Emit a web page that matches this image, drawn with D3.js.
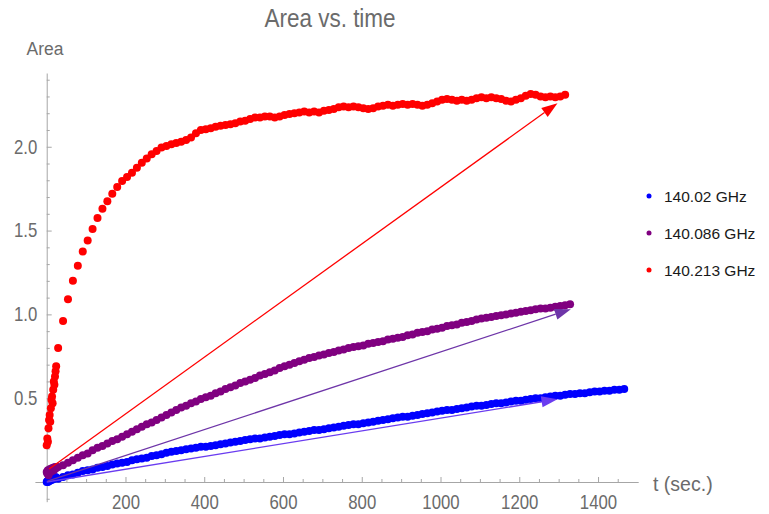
<!DOCTYPE html>
<html><head><meta charset="utf-8">
<script src="https://cdn.jsdelivr.net/npm/d3@7"></script>
<style>body{margin:0;background:#fff}</style>
</head><body><svg id="c" width="769" height="514"></svg>
<script>
// ---------- DATA ----------
const seriesNames = ["140.02 GHz", "140.086 GHz", "140.213 GHz"];
const tEarly = [0,1.5,3,4.5,6,7.5,9,10.5,12,13.5,15,16.5,18,19.5,21,22.5,24];
const tMain = [29,41.5,54,66.5,79,91.5,104,116.5,129,141.5,154,166.5,179,191.5,204,216.5,229,241.5,254,266.5,
  279,291.5,304,316.5,329,341.5,354,366.5,379,391.5,404,416.5,429,441.5,454,466.5,479,491.5,504,516.5,
  529,541.5,554,566.5,579,591.5,604,616.5,629,641.5,654,666.5,679,691.5,704,716.5,729,741.5,754,766.5,
  779,791.5,804,816.5,829,841.5,854,866.5,879,891.5,904,916.5,929,941.5,954,966.5,979,991.5,1004,1016.5,
  1029,1041.5,1054,1066.5,1079,1091.5,1104,1116.5,1129,1141.5,1154,1166.5,1179,1191.5,1204,1216.5,1229,1241.5,1254,1266.5,
  1279,1291.5,1304,1316.5,1329,1341.5,1354,1366.5,1379,1391.5,1404,1416.5,1429,1441.5,1454,1466.5];

const blueEarly = [0.0,0.005,0.0,0.01,0.005,0.01,0.015,0.01,0.015,0.02,0.015,0.02,0.025,0.02,0.025,0.03,0.025];
const blueMain = [0.02,0.03,0.04,0.045,0.055,0.065,0.07,0.075,0.085,0.09,
  0.095,0.105,0.11,0.115,0.12,0.13,0.135,0.14,0.145,0.155,
  0.16,0.165,0.175,0.18,0.185,0.19,0.195,0.20,0.205,0.21,
  0.21,0.215,0.22,0.225,0.23,0.235,0.24,0.245,0.25,0.255,
  0.26,0.26,0.265,0.27,0.275,0.28,0.285,0.285,0.29,0.295,
  0.30,0.305,0.31,0.31,0.315,0.32,0.325,0.33,0.335,0.34,
  0.345,0.345,0.35,0.355,0.36,0.365,0.37,0.375,0.38,0.385,
  0.39,0.39,0.395,0.40,0.405,0.41,0.415,0.42,0.425,0.43,
  0.43,0.435,0.44,0.445,0.45,0.455,0.455,0.46,0.465,0.47,
  0.47,0.475,0.48,0.485,0.485,0.49,0.495,0.50,0.50,0.505,
  0.51,0.515,0.515,0.52,0.525,0.525,0.53,0.53,0.535,0.54,
  0.54,0.545,0.545,0.55,0.55,0.555];

const purpleEarly = [0.06,0.05,0.07,0.04,0.065,0.075,0.06,0.07,0.08,0.065,0.075,0.085,0.07,0.08,0.09,0.08,0.085];
const purpleMain = [0.09,0.10,0.115,0.13,0.145,0.16,0.17,0.19,0.205,0.215,
  0.23,0.245,0.255,0.27,0.285,0.30,0.315,0.33,0.345,0.355,
  0.37,0.385,0.40,0.415,0.43,0.445,0.455,0.47,0.48,0.495,
  0.505,0.515,0.53,0.54,0.555,0.565,0.575,0.59,0.60,0.61,
  0.62,0.635,0.645,0.655,0.665,0.68,0.69,0.70,0.71,0.72,
  0.73,0.74,0.745,0.755,0.76,0.77,0.775,0.785,0.79,0.80,
  0.805,0.81,0.815,0.825,0.83,0.835,0.84,0.85,0.855,0.86,
  0.865,0.875,0.88,0.89,0.895,0.90,0.91,0.915,0.92,0.93,
  0.935,0.94,0.95,0.955,0.96,0.97,0.975,0.98,0.985,0.99,
  0.995,1.00,1.005,1.01,1.015,1.02,1.025,1.03,1.035,1.035,
  1.04,1.045,1.05,1.055,1.06];

const redEarly = [0.22,0.26,0.24,0.32,0.37,0.40,0.36,0.44,0.49,0.51,0.47,0.55,0.60,0.58,0.63,0.66,0.69];
const redMain = [0.80,0.96,1.09,1.20,1.29,1.375,1.44,1.51,1.575,1.63,
  1.675,1.72,1.76,1.795,1.82,1.845,1.875,1.905,1.93,1.955,
  1.975,1.995,2.005,2.015,2.022,2.03,2.04,2.055,2.08,2.10,
  2.105,2.11,2.12,2.125,2.13,2.135,2.14,2.15,2.155,2.165,
  2.175,2.175,2.18,2.18,2.175,2.18,2.19,2.195,2.20,2.205,
  2.21,2.205,2.21,2.205,2.215,2.22,2.225,2.235,2.24,2.235,
  2.24,2.235,2.23,2.225,2.23,2.24,2.245,2.25,2.245,2.25,
  2.255,2.25,2.255,2.25,2.245,2.25,2.26,2.27,2.28,2.285,
  2.28,2.275,2.28,2.275,2.28,2.29,2.295,2.29,2.295,2.29,
  2.285,2.275,2.27,2.28,2.29,2.305,2.315,2.31,2.30,2.295,
  2.30,2.295,2.30,2.31];

const arrowBlue = [[0, 0.0], [1297, 0.494]];
const arrowPurple = [[2, 0.005], [1331, 1.031]];
const arrowRed = [[6, 0.078], [1297, 2.26]];

const xMajorTicks = [200,400,600,800,1000,1200,1400];
const xMinorTicks = [50,100,150,250,300,350,450,500,550,650,700,750,850,900,950,1050,1100,1150,1250,1300,1350,1450];
const yMajorTicks = [0.5,1.0,1.5,2.0];
const yMinorTicks = [-0.1,0.1,0.2,0.3,0.4,0.6,0.7,0.8,0.9,1.1,1.2,1.3,1.4,1.6,1.7,1.8,1.9,2.1,2.2,2.3,2.4];

// ---------- CHART ----------
const svg = d3.select("#c");
const x = d3.scaleLinear().domain([-30, 1502]).range([34.9, 638.2]);
const y = d3.scaleLinear().domain([-0.1175, 2.44]).range([501.7, 73]);
const axisColor = "#a6a6a6", labelColor = "#6b6b6b";
const font = "'Liberation Sans',Arial,sans-serif";
const SX = 0.84; // horizontal condensation of the label face

const colors = ["#0000ff", "#800080", "#ff0000"];
const arrowColors = ["#6a3cf0", "#6e35a8", "#ff0000"];

function styleAxis(g) {
  g.selectAll("path.domain").attr("stroke", axisColor).attr("stroke-width", 1);
  g.selectAll(".tick line").attr("stroke", axisColor).attr("stroke-width", 1);
  g.selectAll(".tick text").attr("fill", labelColor).attr("font-family", font).attr("font-size", 20);
}

// x axis
const gxMinor = svg.append("g").attr("transform", `translate(0,${y(0)})`)
  .call(d3.axisBottom(x).tickValues(xMinorTicks).tickSize(-3).tickSizeOuter(0).tickFormat(""));
styleAxis(gxMinor);
const gxMajor = svg.append("g").attr("transform", `translate(0,${y(0)})`)
  .call(d3.axisBottom(x).tickValues(xMajorTicks).tickSize(-5).tickPadding(13).tickFormat(d3.format("d")));
gxMajor.select("path.domain").remove();
styleAxis(gxMajor);
gxMajor.selectAll(".tick text").attr("transform", `scale(${SX},1)`);

// y axis
const gyMinor = svg.append("g").attr("transform", `translate(${x(0)},0)`)
  .call(d3.axisLeft(y).tickValues(yMinorTicks).tickSize(-3).tickSizeOuter(0).tickFormat(""));
styleAxis(gyMinor);
const gyMajor = svg.append("g").attr("transform", `translate(${x(0)},0)`)
  .call(d3.axisLeft(y).tickValues(yMajorTicks).tickSize(-5).tickPadding(9.5).tickFormat(d3.format(".1f")));
gyMajor.select("path.domain").remove();
styleAxis(gyMajor);
gyMajor.selectAll(".tick text").attr("x", -9.5 / SX).attr("transform", `scale(${SX},1)`);

// series points
const series = [
  { name: seriesNames[0], t: tEarly.concat(tMain), v: blueEarly.concat(blueMain), color: colors[0] },
  { name: seriesNames[1], t: tEarly.concat(tMain), v: purpleEarly.concat(purpleMain), color: colors[1] },
  { name: seriesNames[2], t: tEarly.concat(tMain), v: redEarly.concat(redMain), color: colors[2] }
];
series.forEach(s => {
  const pts = s.v.map((v, i) => [s.t[i], v]);
  svg.append("g").selectAll("circle").data(pts).join("circle")
    .attr("cx", d => x(d[0])).attr("cy", d => y(d[1])).attr("r", 4)
    .attr("fill", s.color);
});

// arrows
const arrows = [arrowBlue, arrowPurple, arrowRed];
arrows.forEach((a, i) => {
  const x0 = x(a[0][0]), y0 = y(a[0][1]), x1 = x(a[1][0]), y1 = y(a[1][1]);
  const dx = x1 - x0, dy = y1 - y0, len = Math.hypot(dx, dy);
  const ux = dx / len, uy = dy / len, L = 16, W = 5.5;
  const bx = x1 - L * ux, by = y1 - L * uy;
  svg.append("line").attr("x1", x0).attr("y1", y0).attr("x2", bx).attr("y2", by)
    .attr("stroke", arrowColors[i]).attr("stroke-width", 1.3);
  svg.append("path")
    .attr("d", `M${x1},${y1}L${bx - W * uy},${by + W * ux}L${bx + W * uy},${by - W * ux}Z`)
    .attr("fill", arrowColors[i]);
});

// legend
const legY = [196, 233, 270];
series.forEach((s, i) => {
  svg.append("circle").attr("cx", 649).attr("cy", legY[i]).attr("r", 2.5).attr("fill", s.color);
  svg.append("text").attr("x", 664).attr("y", legY[i] + 5.5).text(s.name)
    .attr("font-family", font).attr("font-size", 15.5).attr("fill", "#1a1a1a");
});

// titles (condensed via horizontal scale)
function condensedText(cx, cy, size, anchor, str, sx) {
  svg.append("text").attr("transform", `translate(${cx},${cy}) scale(${sx},1)`)
    .attr("text-anchor", anchor).attr("font-family", font).attr("font-size", size)
    .attr("fill", labelColor).text(str);
}
condensedText(330, 27, 25, "middle", "Area vs. time", 0.9);
condensedText(45, 55, 19, "middle", "Area", 0.92);
condensedText(653, 491, 21, "start", "t (sec.)", 0.93);
</script></body></html>
